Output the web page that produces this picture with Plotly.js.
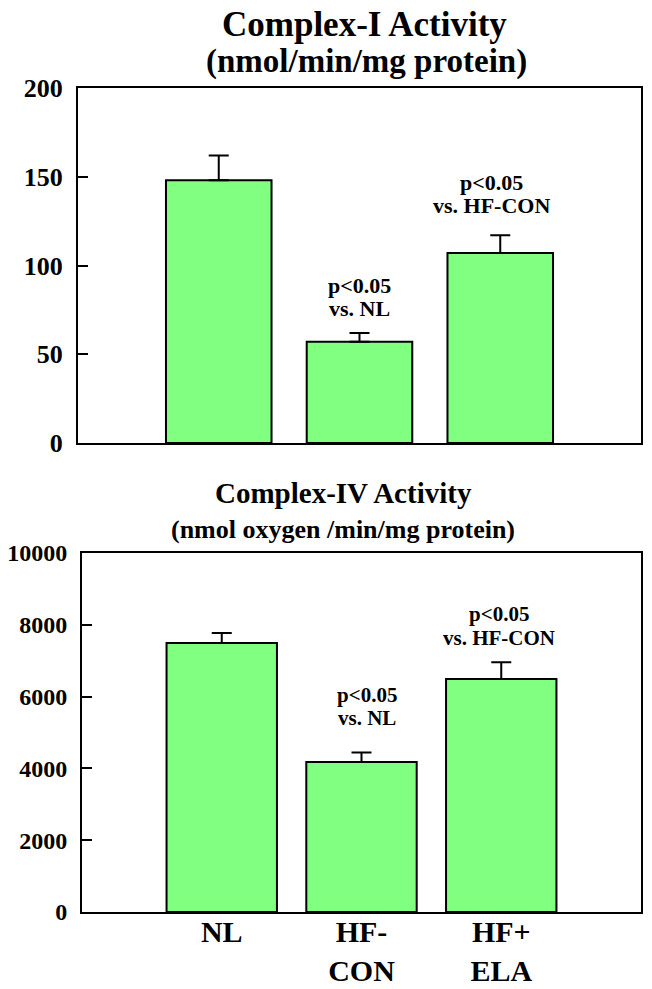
<!DOCTYPE html>
<html><head><meta charset="utf-8">
<script src="https://cdn.plot.ly/plotly-3.0.1.min.js"></script>
<style>html,body{margin:0;padding:0;background:#fff}#c{width:652px;height:989px}</style>
</head><body><div id="c"></div>
<script>
const categories = ['NL', 'HF-<br>CON', 'HF+<br>ELA'];
const complexI = [148, 57, 107];
const complexIErrTop = [162, 62, 117];
const complexIV = [7490, 4180, 6490];
const complexIVErrTop = [7770, 4440, 6960];
const yTicksI = [0, 50, 100, 150, 200];
const yTicksIV = [0, 2000, 4000, 6000, 8000, 10000];

const F = 'Liberation Serif';
const idx = categories.map((_, i) => i);
const bar = (y, top, xa, ya, w) => ({
  type: 'bar', x: idx, y: y, xaxis: xa, yaxis: ya, width: w,
  marker: {color: '#80FF80', line: {color: '#000', width: 2}},
  error_y: {type: 'data', symmetric: false, array: top.map((t, i) => t - y[i]),
            arrayminus: y.map(() => 0), color: '#000', thickness: 2, width: 10},
  hoverinfo: 'none', showlegend: false
});
const axY = (ticks, range, dom, anchor, fs) => ({
  domain: dom, range: range, anchor: anchor, tickvals: ticks, ticktext: ticks.map(String),
  showgrid: false, zeroline: false, showline: true, mirror: true, linecolor: '#000', linewidth: 2,
  ticks: 'inside', ticklen: 10, tickwidth: 2, tickcolor: '#000',
  ticklabelstandoff: 8, tickfont: {family: F, size: fs, color: '#000', weight: 'bold'}
});
const txt = (t, xref, yref, x, y, size, xshift) => ({
  text: '<b>' + t + '</b>', xref: xref, yref: yref, x: x, y: y, xshift: xshift || 0,
  xanchor: 'center', yanchor: 'middle', showarrow: false, font: {family: F, size: size, color: '#000'}
});
const layout = {
  width: 652, height: 989, margin: {l: 0, r: 0, t: 0, b: 0},
  paper_bgcolor: '#fff', plot_bgcolor: '#fff',
  xaxis: {domain: [78/652, 641/652], range: [-1, 3], anchor: 'y', showticklabels: false,
          showgrid: false, zeroline: false, showline: true, mirror: true, linecolor: '#000', linewidth: 2, ticks: ''},
  yaxis: axY(yTicksI, [0, 200], [1 - 443/989, 1 - 88/989], 'x', 26),
  xaxis2: {domain: [82/652, 641/652], range: [-1, 3], anchor: 'y2', tickvals: idx, ticktext: categories,
          showgrid: false, zeroline: false, showline: true, mirror: true, linecolor: '#000', linewidth: 2, ticks: '',
          ticklabelstandoff: -8, tickfont: {family: F, size: 30, color: '#000', weight: 'bold'}},
  yaxis2: axY(yTicksIV, [0, 10000], [1 - 912/989, 1 - 553/989], 'x2', 24),
  annotations: [
    txt('Complex-I Activity', 'paper', 'paper', 364/652, 1 - 24/989, 35),
    txt('(nmol/min/mg protein)', 'paper', 'paper', 366/652, 1 - 62/989, 33),
    txt('Complex-IV Activity', 'paper', 'paper', 343/652, 1 - 493/989, 29),
    txt('(nmol oxygen /min/mg protein)', 'paper', 'paper', 343/652, 1 - 529/989, 26),
    txt('p<0.05', 'x', 'y', 1, 89, 22),
    txt('vs. NL', 'x', 'y', 1, 76, 22),
    txt('p<0.05', 'x', 'y', 2, 147, 22, -9),
    txt('vs. HF-CON', 'x', 'y', 2, 134, 22, -9),
    txt('p<0.05', 'x2', 'y2', 1, 6045, 21, 5),
    txt('vs. NL', 'x2', 'y2', 1, 5404, 21, 5),
    txt('p<0.05', 'x2', 'y2', 2, 8301, 21, -2),
    txt('vs. HF-CON', 'x2', 'y2', 2, 7632, 21, -2)
  ]
};
Plotly.newPlot('c', [bar(complexI, complexIErrTop, 'x', 'y', 0.75), bar(complexIV, complexIVErrTop, 'x2', 'y2', 0.79)],
  layout, {staticPlot: true});
</script></body></html>
